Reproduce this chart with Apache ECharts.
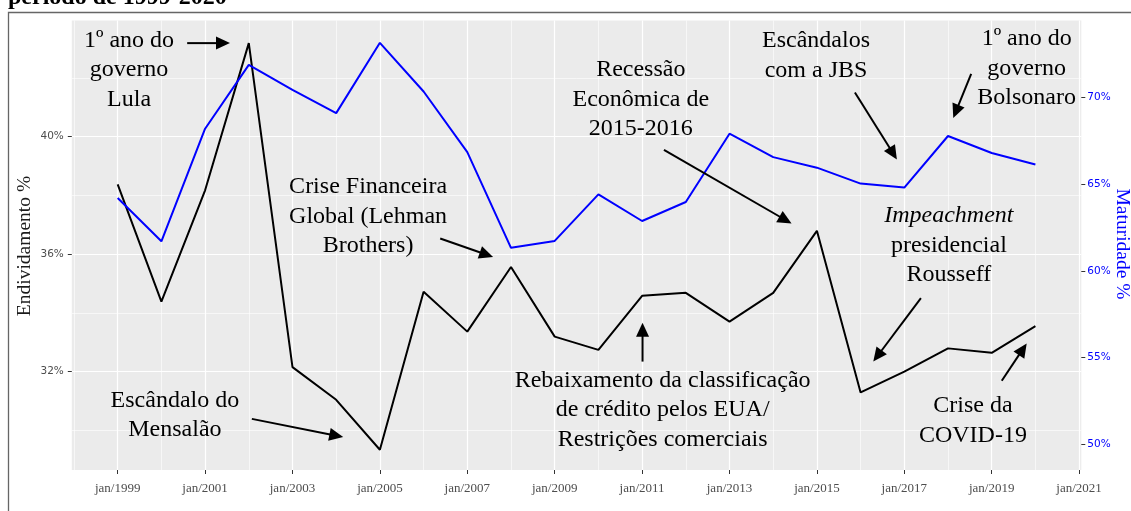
<!DOCTYPE html>
<html>
<head>
<meta charset="utf-8">
<script src="https://cdn.jsdelivr.net/npm/echarts@6/dist/echarts.min.js"></script>
<style>
html,body{margin:0;padding:0;background:#fff;}
#grafico{width:1131px;height:511px;}
</style>
</head>
<body>
<div id="grafico"></div>
<script>
// dados (jan de cada ano)
var anos = [1999,2000,2001,2002,2003,2004,2005,2006,2007,2008,2009,2010,2011,2012,2013,2014,2015,2016,2017,2018,2019,2020];
var endividamento = [38.37,34.38,38.17,43.18,32.15,31.04,29.34,34.72,33.36,35.56,33.19,32.74,34.58,34.68,33.70,34.68,36.79,31.29,32.00,32.79,32.64,33.55];
var maturidade = [64.21,61.71,68.21,71.90,70.46,69.11,73.17,70.36,66.86,61.33,61.73,64.42,62.88,63.98,67.92,66.57,65.96,65.04,64.81,67.79,66.81,66.14];
// marcas dos eixos
var ticksAno = [1999,2001,2003,2005,2007,2009,2011,2013,2015,2017,2019,2021];
var ticksAnoMenor = [1998,2000,2002,2004,2006,2008,2010,2012,2014,2016,2018,2020];
var ticksEndiv = [32,36,40];
var ticksEndivMenor = [30,34,38,42];
var ticksMatur = [50,55,60,65,70];

var fonteTexto = '"Liberation Serif","Times New Roman",serif';
var corAzul = '#0000ff';

// anotacoes (coordenadas em ano / endividamento %)
var notas = [
	{linhas:['1º ano do','governo','Lula'], pos:[1999.26,42.27], seta:[[2000.59,43.18],[2001.57,43.18]]},
	{linhas:['Escândalo do','Mensalão'], pos:[2000.31,30.51], seta:[[2002.07,30.39],[2004.16,29.77]]},
	{linhas:['Crise Financeira','Global (Lehman','Brothers)'], pos:[2004.73,37.28], seta:[[2006.38,36.53],[2007.59,35.90]]},
	{linhas:['Recessão','Econômica de','2015-2016'], pos:[2010.97,41.26], seta:[[2011.50,39.55],[2014.42,37.04]]},
	{linhas:['Escândalos','com a JBS'], pos:[2014.98,42.76], seta:[[2015.87,41.50],[2016.83,39.22]]},
	{linhas:['1º ano do','governo','Bolsonaro'], pos:[2019.80,42.32], seta:[[2018.53,42.13],[2018.12,40.63]]},
	{linhas:['Impeachment','presidencial','Rousseff'], italico:[0], pos:[2018.02,36.29], seta:[[2017.38,34.50],[2016.29,32.34]]},
	{linhas:['Crise da','COVID-19'], pos:[2018.57,30.33], seta:[[2019.23,31.69],[2019.80,32.96]]},
	{linhas:['Rebaixamento da classificação','de crédito pelos EUA/','Restrições comerciais'], pos:[2011.47,30.69], seta:[[2011.01,32.34],[2011.01,33.66]]}
];

var chart = echarts.init(document.getElementById('grafico'), null, {renderer:'canvas'});

var serieEndiv = anos.map(function(a,i){ return [a, endividamento[i]]; });
var serieMatur = anos.map(function(a,i){ return [a, maturidade[i]]; });

var eixoMenorX = {
	type:'value', min:1997.95, max:2021.05, position:'bottom', show:true,
	axisLine:{show:false}, axisLabel:{show:false},
	axisTick:{show:false, customValues:ticksAnoMenor},
	splitLine:{show:true, customValues:ticksAnoMenor, lineStyle:{color:'#ffffff', width:0.6}}
};

var option = {
	animation: false,
	backgroundColor: '#ffffff',
	grid: {left:71.8, right:49.7, top:20.5, bottom:41, show:true, backgroundColor:'#ebebeb', borderWidth:0},
	xAxis: [
		{
			type:'value', min:1997.95, max:2021.05, position:'bottom',
			axisLine:{show:false},
			axisTick:{show:true, customValues:ticksAno, length:4, lineStyle:{color:'#333333', width:1}},
			axisLabel:{customValues:ticksAno, color:'#4d4d4d', fontFamily:fonteTexto, fontSize:13, margin:12,
				formatter:function(v){ return 'jan/' + v; }},
			splitLine:{show:true, customValues:ticksAno, lineStyle:{color:'#ffffff', width:1.2}}
		},
		eixoMenorX
	],
	yAxis: [
		{
			type:'value', min:28.65, max:43.95, position:'left',
			axisLine:{show:false},
			axisTick:{show:true, customValues:ticksEndiv, length:4, lineStyle:{color:'#333333', width:1}},
			axisLabel:{customValues:ticksEndiv, color:'#4d4d4d', fontFamily:'"DejaVu Sans",Verdana,sans-serif', fontSize:10.5, margin:8,
				formatter:function(v){ return v + '%'; }},
			splitLine:{show:true, customValues:ticksEndiv, lineStyle:{color:'#ffffff', width:1.2}}
		},
		{
			type:'value', min:48.5, max:74.46, position:'right',
			axisLine:{show:false},
			axisTick:{show:true, customValues:ticksMatur, length:4, lineStyle:{color:'#333333', width:1}},
			axisLabel:{customValues:ticksMatur, color:corAzul, fontFamily:'"DejaVu Sans",Verdana,sans-serif', fontSize:10.5, margin:6,
				formatter:function(v){ return v + '%'; }},
			splitLine:{show:false}
		},
		{
			type:'value', min:28.65, max:43.95, position:'left', show:true,
			axisLine:{show:false}, axisLabel:{show:false},
			axisTick:{show:false, customValues:ticksEndivMenor},
			splitLine:{show:true, customValues:ticksEndivMenor, lineStyle:{color:'#ffffff', width:0.6}}
		}
	],
	series: [
		{
			name:'Endividamento', type:'line', xAxisIndex:0, yAxisIndex:0,
			data:serieEndiv, showSymbol:false, symbol:'none', silent:true,
			lineStyle:{color:'#000000', width:2}, z:3
		},
		{
			name:'Maturidade', type:'line', xAxisIndex:0, yAxisIndex:1,
			data:serieMatur, showSymbol:false, symbol:'none', silent:true,
			lineStyle:{color:corAzul, width:2}, z:4
		}
	]
};
chart.setOption(option);

// anotacoes e titulos
function px(p){
	return chart.convertToPixel({xAxisIndex:0, yAxisIndex:0}, p);
}
function seta(a, b){
	var s = px(a), t = px(b);
	var dx = t[0]-s[0], dy = t[1]-s[1];
	var len = Math.sqrt(dx*dx+dy*dy);
	var ux = dx/len, uy = dy/len;
	var comp = 14, meia = 6.5;
	var bx = t[0]-ux*comp, by = t[1]-uy*comp;
	return [
		{type:'line', shape:{x1:s[0], y1:s[1], x2:bx+ux*2, y2:by+uy*2}, style:{stroke:'#000', lineWidth:2}, z:10, silent:true},
		{type:'polygon', shape:{points:[[t[0],t[1]],[bx-uy*meia, by+ux*meia],[bx+uy*meia, by-ux*meia]]}, style:{fill:'#000'}, z:10, silent:true}
	];
}
var elementos = [];
notas.forEach(function(n){
	var c = px(n.pos);
	var alt = 29.5;
	n.linhas.forEach(function(l, i){
		var ital = n.italico && n.italico.indexOf(i) >= 0;
		elementos.push({
			type:'text', z:10, silent:true,
			style:{
				text:l, x:c[0], y:c[1] + (i - (n.linhas.length-1)/2)*alt,
				align:'center', verticalAlign:'middle',
				fontFamily:fonteTexto, fontSize:24, fontStyle: ital ? 'italic' : 'normal',
				fill:'#000000'
			}
		});
	});
	elementos = elementos.concat(seta(n.seta[0], n.seta[1]));
});
// titulos dos eixos
elementos.push({
	type:'text', x:25, y:246, rotation:Math.PI/2, silent:true,
	style:{text:'Endividamento %', x:0, y:0, align:'center', verticalAlign:'middle', fontFamily:fonteTexto, fontSize:19.5, fill:'#1a1a1a'}
});
elementos.push({
	type:'text', x:1122, y:244, rotation:-Math.PI/2, silent:true,
	style:{text:'Maturidade %', x:0, y:0, align:'center', verticalAlign:'middle', fontFamily:fonteTexto, fontSize:19.5, fill:corAzul}
});
// moldura e titulo cortado
elementos.push({
	type:'rect', silent:true, z:0,
	shape:{x:8.5, y:12.5, width:1140, height:520},
	style:{fill:null, stroke:'#666666', lineWidth:1.3}
});
elementos.push({
	type:'text', silent:true,
	style:{text:'período de 1999-2020', x:8, y:9.5, align:'left', verticalAlign:'bottom',
		fontFamily:fonteTexto, fontWeight:'bold', fontSize:24, fill:'#000000'}
});
chart.setOption({graphic:{elements:elementos}});
</script>
</body>
</html>
